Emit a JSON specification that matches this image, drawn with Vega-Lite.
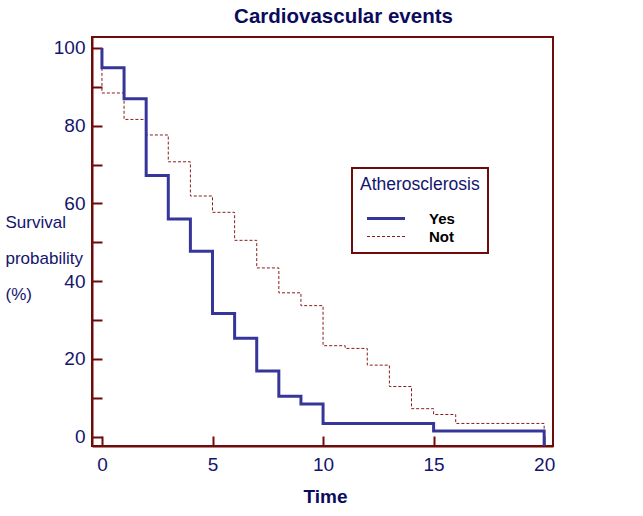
{
  "$schema": "https://vega.github.io/schema/vega-lite/v6.json",
  "width": 461,
  "height": 409,
  "autosize": "none",
  "padding": {"left": 92, "top": 37, "right": 90, "bottom": 70},
  "title": {"text": "Cardiovascular events", "fontSize": 20.5, "fontWeight": "bold", "color": "#0b0b5e", "font": "Liberation Sans", "anchor": "middle", "dx": 21, "offset": -6, "baseline": "alphabetic"},
  "config": {
    "font": "Liberation Sans",
    "view": {"stroke": "#6e0b0b", "strokeWidth": 2}
  },
  "data": {"values": [
    {"i": 0, "g": "Not", "t": 0, "s": 100},
    {"i": 1, "g": "Not", "t": 0, "s": 88.4},
    {"i": 2, "g": "Not", "t": 1, "s": 81.6},
    {"i": 3, "g": "Not", "t": 2, "s": 77.6},
    {"i": 4, "g": "Not", "t": 3, "s": 70.7},
    {"i": 5, "g": "Not", "t": 4, "s": 61.9},
    {"i": 6, "g": "Not", "t": 5, "s": 57.7},
    {"i": 7, "g": "Not", "t": 6, "s": 50.5},
    {"i": 8, "g": "Not", "t": 7, "s": 43.4},
    {"i": 9, "g": "Not", "t": 8, "s": 37.0},
    {"i": 10, "g": "Not", "t": 9, "s": 33.7},
    {"i": 11, "g": "Not", "t": 10, "s": 23.4},
    {"i": 12, "g": "Not", "t": 11, "s": 22.7},
    {"i": 13, "g": "Not", "t": 12, "s": 18.4},
    {"i": 14, "g": "Not", "t": 13, "s": 12.9},
    {"i": 15, "g": "Not", "t": 14, "s": 7.2},
    {"i": 16, "g": "Not", "t": 15, "s": 5.7},
    {"i": 17, "g": "Not", "t": 16, "s": 3.4},
    {"i": 18, "g": "Not", "t": 20, "s": 3.4},
    {"i": 19, "g": "Not", "t": 20, "s": 1.45},
    {"i": 20, "g": "Yes", "t": 0, "s": 100},
    {"i": 21, "g": "Yes", "t": 0, "s": 94.9},
    {"i": 22, "g": "Yes", "t": 1, "s": 86.9},
    {"i": 23, "g": "Yes", "t": 2, "s": 67.2},
    {"i": 24, "g": "Yes", "t": 3, "s": 56.0},
    {"i": 25, "g": "Yes", "t": 4, "s": 47.7},
    {"i": 26, "g": "Yes", "t": 5, "s": 31.7},
    {"i": 27, "g": "Yes", "t": 6, "s": 25.3},
    {"i": 28, "g": "Yes", "t": 7, "s": 16.9},
    {"i": 29, "g": "Yes", "t": 8, "s": 10.4},
    {"i": 30, "g": "Yes", "t": 9, "s": 8.4},
    {"i": 31, "g": "Yes", "t": 10, "s": 3.4},
    {"i": 32, "g": "Yes", "t": 15, "s": 1.45},
    {"i": 33, "g": "Yes", "t": 20, "s": 1.45},
    {"i": 34, "g": "Yes", "t": 20, "s": -2.4}
  ]},
  "mark": {"type": "line", "interpolate": "step-after", "clip": true},
  "encoding": {
    "x": {
      "field": "t", "type": "quantitative",
      "scale": {"domain": [-0.45, 20.4], "nice": false, "zero": false},
      "axis": {
        "values": [0, 5, 10, 15, 20],
        "grid": false,
        "title": "Time", "titleFontSize": 19, "titleFontWeight": "bold", "titleColor": "#0b0b5e",
        "titleX": 233, "titleY": 56, "titleBaseline": "alphabetic",
        "labelFontSize": 19, "labelColor": "#14146e", "labelPadding": 19, "labelFlush": false,
        "tickSize": -10, "tickColor": "#6e0b0b", "tickWidth": 2,
        "domainColor": "#6e0b0b", "domainWidth": 2
      }
    },
    "y": {
      "field": "s", "type": "quantitative",
      "scale": {"domain": [-2.4, 102.8], "nice": false, "zero": false},
      "axis": {
        "values": [0, 10, 20, 30, 40, 50, 60, 70, 80, 90, 100],
        "labelExpr": "datum.value % 20 === 0 ? datum.label : ''",
        "grid": false,
        "title": ["Survival", "probability", "(%)"],
        "titleAngle": 0, "titleAlign": "left", "titleBaseline": "alphabetic",
        "titleX": -87, "titleY": 190, "titleLineHeight": 36,
        "titleFontSize": 17, "titleFontWeight": "normal", "titleColor": "#14146e",
        "labelFontSize": 19, "labelColor": "#14146e", "labelPadding": 17,
        "tickSize": -10, "tickColor": "#6e0b0b", "tickWidth": 2,
        "domainColor": "#6e0b0b", "domainWidth": 2,
        "encode": {"ticks": {"update": {"x2": {"signal": "datum.value % 20 === 0 ? 10 : 5"}}}}
      }
    },
    "order": {"field": "i", "type": "quantitative"},
    "color": {
      "field": "g", "type": "nominal", "title": "Atherosclerosis",
      "scale": {"domain": ["Yes", "Not"], "range": ["#36369a", "#8b1c1c"]},
      "legend": {
        "orient": "none", "legendX": 260, "legendY": 131,
        "strokeColor": "#6e0b0b", "padding": 8,
        "titleFontSize": 17.5, "titleFontWeight": "normal", "titleColor": "#14146e", "titlePadding": 14,
        "labelFontSize": 15, "labelFontWeight": "bold", "labelColor": "#000000", "labelOffset": 32,
        "symbolType": "M-2,0H2", "symbolSize": 361, "symbolOffset": 15, "rowPadding": 0,
        "encode": {"legend": {"update": {"strokeWidth": {"value": 2}}}}
      }
    },
    "strokeDash": {
      "field": "g", "type": "nominal", "title": "Atherosclerosis",
      "scale": {"domain": ["Yes", "Not"], "range": [[1, 0], [3, 2]]}
    },
    "strokeWidth": {
      "field": "g", "type": "nominal", "title": "Atherosclerosis",
      "scale": {"domain": ["Yes", "Not"], "range": [3, 1]}
    }
  }
}
